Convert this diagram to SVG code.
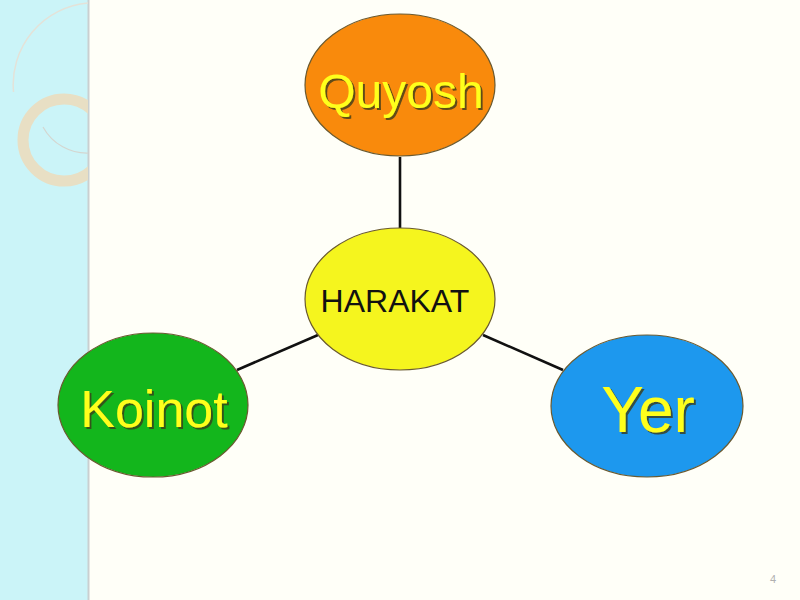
<svg xmlns="http://www.w3.org/2000/svg" width="800" height="600" viewBox="0 0 800 600">
<defs>
<style>
.node{stroke:#6a5a30;stroke-width:1.2}
.lbl{font-family:"Liberation Sans",Arial,sans-serif;text-anchor:middle;fill:#ffff1a;filter:url(#shadow)}
.conn line{stroke:#111;stroke-width:2.6}
</style>
<filter id="shadow" x="-10%" y="-10%" width="130%" height="130%">
<feDropShadow dx="2" dy="2" stdDeviation="0.6" flood-color="#3a3a18" flood-opacity="0.8"/>
</filter>
<clipPath id="strip"><rect x="0" y="0" width="88" height="600"/></clipPath>
</defs>
<rect x="0" y="0" width="800" height="600" fill="#fffff8"/>
<rect x="0" y="0" width="88" height="600" fill="#cbf4f8"/>
<line x1="88.5" y1="0" x2="88.5" y2="600" stroke="#c9cfd0" stroke-width="2"/>
<g clip-path="url(#strip)" fill="none">
<path d="M88 3 A82 82 0 0 0 13.5 92" stroke="#e4e2d8" stroke-width="1.5"/>
<circle cx="64" cy="140" r="41" stroke="#e8dfc4" stroke-width="11"/>
<path d="M43 127 A50 50 0 0 0 90 153" stroke="#d4d6d0" stroke-width="1.2"/>
</g>
<g class="conn">
<line x1="400" y1="157" x2="400" y2="228"/>
<line x1="318" y1="335" x2="237" y2="370"/>
<line x1="483" y1="335" x2="563" y2="370"/>
</g>
<g id="quyosh">
<ellipse class="node" cx="400" cy="85" rx="95" ry="71" fill="#f98a0c"/>
<text class="lbl" x="401" y="108" font-size="48">Quyosh</text>
</g>
<g id="harakat">
<ellipse class="node" cx="400" cy="299" rx="95" ry="71" fill="#f5f51e"/>
<text x="395" y="312" font-size="32" font-family="Liberation Sans,Arial,sans-serif" text-anchor="middle" fill="#111">HARAKAT</text>
</g>
<g id="koinot">
<ellipse class="node" cx="153" cy="405" rx="95" ry="72" fill="#13b61c"/>
<text class="lbl" x="154" y="427" font-size="52">Koinot</text>
</g>
<g id="yer">
<ellipse class="node" cx="647" cy="406" rx="96" ry="71" fill="#1d98ee"/>
<text class="lbl" x="648" y="432" font-size="64">Yer</text>
</g>
<text x="773" y="583" font-size="11" font-family="Liberation Sans,Arial,sans-serif" fill="#b0b0b0" text-anchor="middle">4</text>
</svg>
